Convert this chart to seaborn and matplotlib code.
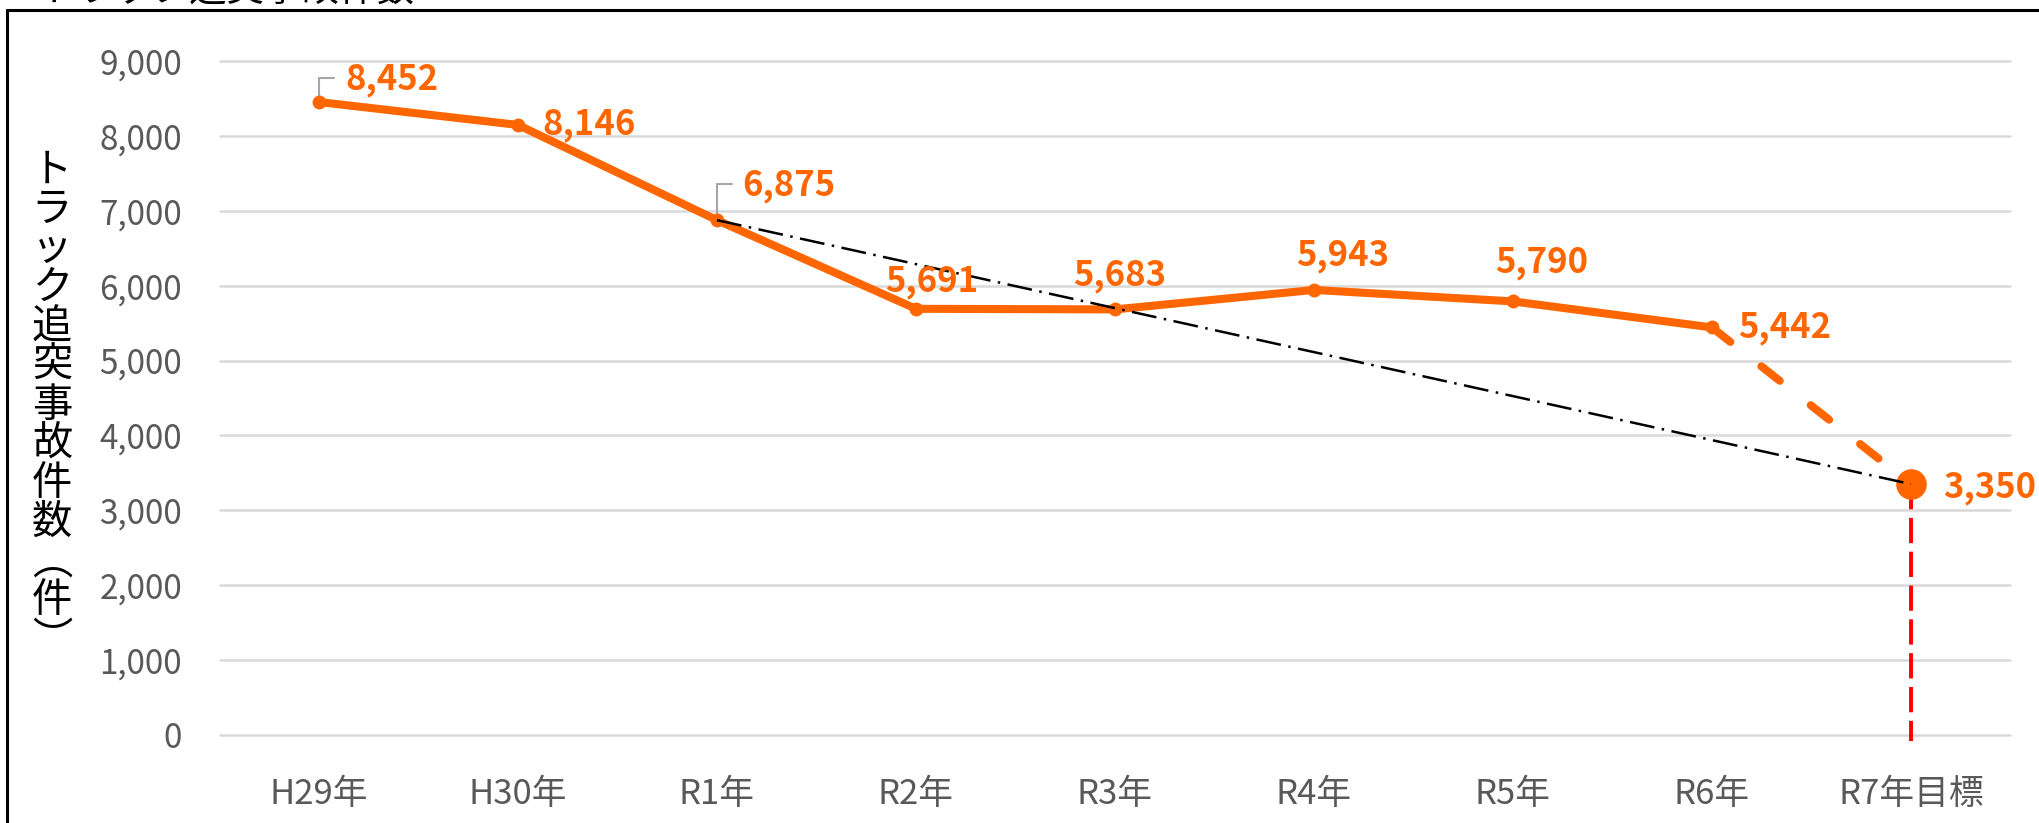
import matplotlib
matplotlib.use("Agg")
import matplotlib.pyplot as plt
import numpy as np
import pandas as pd
import seaborn as sns
from matplotlib.lines import Line2D

# データ
categories = ["H29年", "H30年", "R1年", "R2年", "R3年", "R4年", "R5年", "R6年", "R7年目標"]
actual = [8452, 8146, 6875, 5691, 5683, 5943, 5790, 5442]
target = 3350
trend_start = 2  # R1年から目標値への基準線

title = "トラック追突事故件数"
ylabel_chars = list("トラック追突事故件数") + ["︵", "件", "︶"]

ORANGE = "#FF6600"
GRAY_TXT = "#595959"

# ラベル位置（ピクセルオフセット, 配置）
label_offsets = [
    (26, 23, "left"), (24, 0, "left"), (25, 35, "left"), (16, 27, "center"),
    (5, 34, "center"), (29, 34, "center"), (29, 39, "center"), (26, 0, "left"),
    (32, -3, "left"),
]
leader_idx = [0, 2]

sns.set_theme(style="white")
plt.rcParams["font.family"] = ["Noto Sans CJK JP", "DejaVu Sans"]

fig = plt.figure(figsize=(20.4, 8.23), dpi=100)
ax = fig.add_axes([219.5 / 2040, 88 / 823, 1791 / 2040, 674 / 823])

x_all = np.arange(len(categories))
df = pd.DataFrame({"x": x_all[:len(actual)], "y": actual})

# 実績（実線）
sns.lineplot(data=df, x="x", y="y", ax=ax, color=ORANGE, lw=5.8,
             marker="o", markersize=10, markeredgewidth=0, zorder=4)
# R6 → R7目標（破線）
ax.plot(x_all[len(actual) - 1:], [actual[-1], target], color=ORANGE, lw=5.8,
        linestyle=(0, (2.9, 4.9)), dash_capstyle="round", zorder=4)
# 目標点
ax.plot([x_all[-1]], [target], "o", color=ORANGE, markersize=21, zorder=5)
# 基準線（一点鎖線）
ax.plot([x_all[trend_start], x_all[-1]], [actual[trend_start], target],
        color="black", lw=1.8, linestyle=(0, (10, 3, 1, 3)), zorder=6)
# 目標の垂線（赤破線）
ax.plot([x_all[-1], x_all[-1]], [target, -80], color="#FF0000", lw=2.8,
        linestyle=(0, (6.5, 2.2)), clip_on=False, zorder=3)

# データラベル
values = actual + [target]
for i, v in enumerate(values):
    dx, dy, ha = label_offsets[i]
    ax.annotate(f"{v:,}", xy=(x_all[i], v), xytext=(dx, dy),
                textcoords="offset pixels", ha=ha, va="center",
                color=ORANGE, fontsize=25, fontweight="bold", zorder=7)
    if i in leader_idx:
        ax.annotate("", xy=(x_all[i], v), xytext=(15, dy + 1),
                    textcoords="offset pixels",
                    arrowprops=dict(arrowstyle="-", color="#A6A6A6", lw=1.5,
                                    shrinkA=0, shrinkB=4,
                                    connectionstyle="angle,angleA=0,angleB=90,rad=0"))

ax.set_xlim(-0.5, len(categories) - 0.5)
ax.set_ylim(0, 9000)
ax.set_yticks(np.arange(0, 9001, 1000))
ax.set_yticklabels([f"{t:,}" for t in range(0, 9001, 1000)])
ax.set_xticks(x_all)
ax.set_xticklabels(categories)
ax.tick_params(axis="y", length=0, pad=27, labelsize=24, labelcolor=GRAY_TXT)
ax.tick_params(axis="x", length=0, pad=30, labelsize=25, labelcolor=GRAY_TXT)
ax.set_xlabel("")
ax.set_ylabel("")
ax.yaxis.grid(True, color="#D9D9D9", lw=1.8)
for gl in ax.get_ygridlines():
    gl.set_clip_on(False)
for s in ax.spines.values():
    s.set_visible(False)

# 縦書きの軸ラベル
n = len(ylabel_chars)
y_top, y_bot = 1 - 170 / 823, 1 - 640 / 823
for k, ch in enumerate(ylabel_chars):
    yy = y_top - (y_top - y_bot) * k / (n - 1)
    fig.text(52 / 2040, yy, ch, ha="center", va="center", fontsize=29, color="black")

# 上部で切れたタイトル
fig.text(40 / 2040, 1 - 0.5 / 823, title, ha="left", va="baseline", fontsize=27, color="black")

# 外枠
fig.add_artist(Line2D([7 / 2040, 1], [1 - 10 / 823, 1 - 10 / 823], color="black", lw=2.2))
fig.add_artist(Line2D([7 / 2040, 7 / 2040], [0, 1 - 10 / 823], color="black", lw=2.2))

fig.savefig("out.png", dpi=100)
